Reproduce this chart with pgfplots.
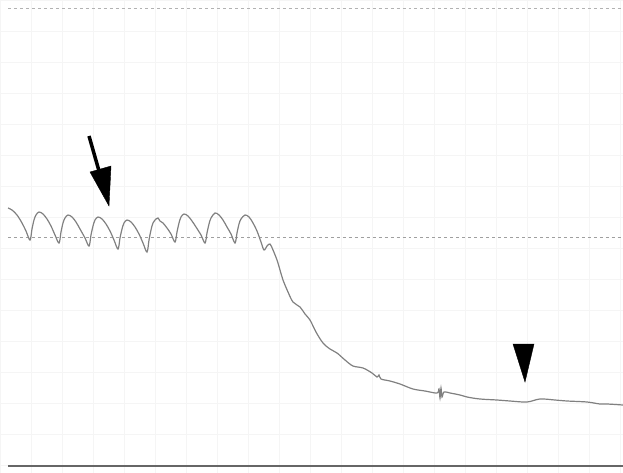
\documentclass[border=0pt]{standalone}
\usepackage{pgfplots}
\pgfplotsset{compat=1.18}
\begin{document}
\begin{tikzpicture}
\begin{axis}[
  width=623bp, height=473bp, scale only axis,
  xmin=0, xmax=623, ymin=0, ymax=473, y dir=reverse,
  enlargelimits=false, clip=false,
  axis line style={draw=none},
  xtick distance=31, ytick distance=31,
  xticklabels={}, yticklabels={},
  tick style={draw=none},
  grid=major, grid style={black!4, line width=0.4pt},
]
% reference lines
\addplot[gray!60, dashed, line width=0.8bp] coordinates {(8,8) (623,8)};
\addplot[gray!75, dashed, line width=0.8bp] coordinates {(8,237) (623,237)};
\addplot[black!60, line width=1.8bp] coordinates {(8,466) (623,466)};
% trace
\addplot[black!50, line width=1.2bp, smooth, tension=0.55] coordinates {
(8,208) (12,210) (17,215) (22,223) (26,231) (30,240)
(32,229) (34,220) (36,215) (39,212) (43,214) (47,219) (51,226) (55,235) (59,243)
(61,232) (63,223) (65,218) (68,215) (72,217) (76,222) (80,229) (85,238) (89,246)
(91,235) (93,226) (95,220) (98,217) (102,219) (106,224) (110,231) (114,240) (118,249)
(120,238) (122,229) (124,223) (127,220) (131,222) (135,227) (139,234) (143,243) (147,252)
(149,240) (151,230) (153,223) (156,219) (158,218) (160,221) (163,223) (167,228) (171,234) (175,242)
(177,232) (179,223) (181,217) (184,214) (188,216) (192,221) (196,227) (201,235) (205,243)
(207,233) (209,224) (211,218) (215,213) (219,215) (223,220) (227,227) (231,234) (235,243)
(237,233) (239,224) (241,219) (245,215) (249,217) (253,223) (257,231) (261,242) (264,250)
(267,246) (270,244) (273,250) (277,260) (280,270) (283,280) (288,292)
(293,302) (300,307) (305,314) (310,320) (316,332) (323,343) (330,349)
(337,353) (345,360) (353,366) (363,368) (372,373) (377,377) (379,375) (381,379) (390,381)
(400,384) (413,389) (425,391) (437,393) (439,389) (440,398) (441,388) (442,397) (444,392)
(450,393) (460,395) (467,397) (480,399) (497,400) (510,401) (527,402)
(540,399) (555,400) (567,401) (587,402) (600,404) (607,404) (623,405)
};
% arrow
\addplot[black, line width=3.5bp] coordinates {(89,136) (101,178)};
\addplot[black, fill=black] coordinates {(90,172) (111,166) (109,206)} -- cycle;
% arrowhead
\addplot[black, fill=black] coordinates {(513,344) (534,344) (525,382)} -- cycle;
\end{axis}
\pgfresetboundingbox
\path[use as bounding box] (0,0) rectangle (623bp,473bp);
\end{tikzpicture}
\end{document}
